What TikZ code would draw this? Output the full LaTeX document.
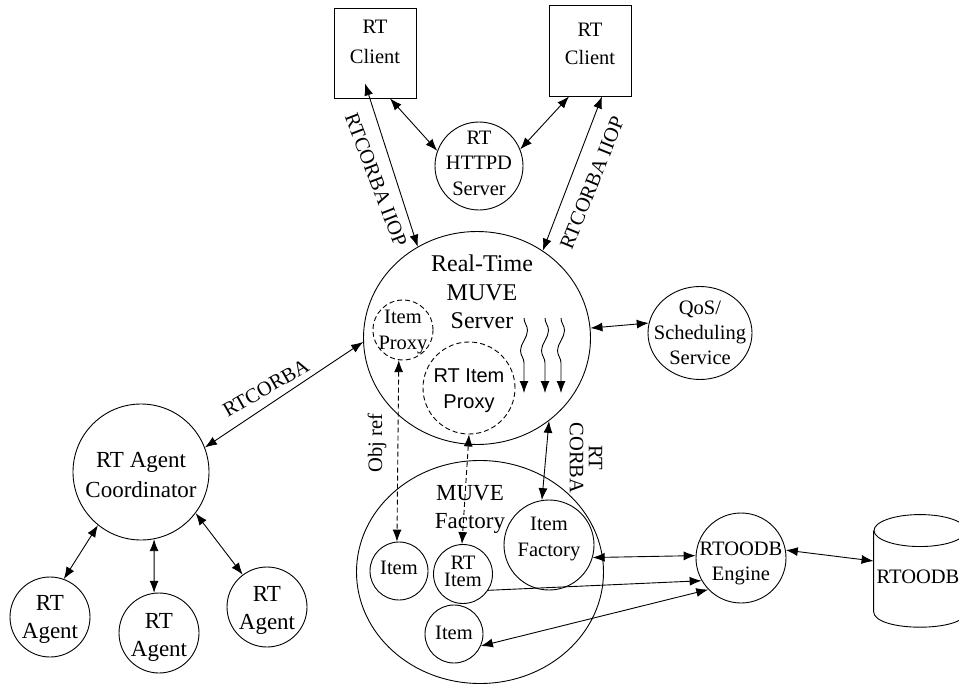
\documentclass[tikz,border=0pt]{standalone}
\usepackage{fontspec}
\setmainfont{Liberation Serif}
\newfontfamily\arialfont{Liberation Sans}
\usetikzlibrary{arrows.meta,shapes.geometric,decorations.pathmorphing}
\tikzset{
  >={Latex[length=12pt,width=9pt]},
  unit/.style = {align=center, inner sep=0pt, line width=0.9pt},
  box/.style = {unit, rectangle, draw=black, minimum width=82pt, minimum height=90pt},
  circ/.style = {unit, circle, draw=black, minimum size=#1},
  dcirc/.style = {circ=#1, dash pattern=on 5pt off 3pt},
  oval/.style 2 args = {unit, ellipse, draw=black, minimum width=#1, minimum height=#2},
  txt/.style = {align=center, inner sep=0pt, font=\fontsize{20.5}{#1}\selectfont},
  big/.style = {align=center, inner sep=0pt, font=\fontsize{23}{#1}\selectfont},
  sans/.style = {align=center, inner sep=0pt, font=\arialfont\fontsize{20}{#1}\selectfont},
  link/.style = {<->, line width=0.9pt},
  dlink/.style = {<->, line width=0.9pt, dash pattern=on 5pt off 3pt},
  wave/.style = {->, line width=0.9pt, decorate,
    decoration={snake, amplitude=3.5pt, segment length=40pt, post length=12pt}},
}
\begin{document}
\begin{tikzpicture}[x=1pt, y=-1pt, line width=0.9pt]
  \useasboundingbox (0,0) rectangle (959,685);

  % clients and web server
  \node[box, label={[txt=30pt, yshift=11pt]center:RT\\Client}] (clientL) at (375,53) {};
  \node[box, minimum height=91pt, label={[txt=28pt, yshift=6.5pt]center:RT\\Client}] (clientR) at (590,50.5) {};
  \node[circ=88pt, label={[txt=25.5pt, yshift=3pt]center:RT\\HTTPD\\Server}] (httpd) at (479,166) {};

  % muve server
  \node[oval={227pt}{213pt}] (server) at (477,338) {};
  \node[font=\fontsize{24}{28.5}\selectfont, align=center, inner sep=0pt] (servertxt) at (482,292) {Real-Time\\MUVE\\Server};
  \node[dcirc=60pt, label={[txt=26pt, yshift=-2pt]center:Item\\Proxy}] (proxy) at (403,330) {};
  \node[dcirc=92pt, label={[sans=26pt, yshift=-3pt]center:RT Item\\Proxy}] (rtproxy) at (469,388) {};
  \foreach \x in {524,545,561}
    \draw[wave] (\x,318) -- (\x,393);
  \node[oval={104pt}{93pt}, label={[txt=25pt]center:QoS/\\Scheduling\\Service}] (qos) at (700,333) {};

  % agents
  \node[circ=136pt, label={[big=30pt, yshift=-3pt]center:RT Agent\\Coordinator}] (coord) at (141,472) {};
  \node[circ=80pt, label={[big=28pt, yshift=-2pt]center:RT\\Agent}] (agentL) at (50,617) {};
  \node[circ=80pt, label={[big=28pt, yshift=-4pt]center:RT\\Agent}] (agentM) at (159,633) {};
  \node[circ=80pt, label={[big=28pt, yshift=-3pt]center:RT\\Agent}] (agentR) at (267,607) {};

  % factory
  \node[oval={247pt}{223pt}] (factory) at (480,572) {};
  \node[big=28pt] (factorytxt) at (470,509) {MUVE\\Factory};
  \node[circ=58pt, label={[txt=20pt, yshift=3pt]center:Item}] (itemA) at (399,571) {};
  \node[circ=59pt, label={[txt=17pt, yshift=2.5pt]center:RT\\Item}] (rtitem) at (463,574) {};
  \node[circ=58pt, label={[txt=20pt, yshift=1pt]center:Item}] (itemB) at (454,634) {};
  \node[circ=90pt, label={[txt=26pt, yshift=6pt]center:Item\\Factory}] (itemfac) at (549,545) {};

  % database
  \node[circ=90pt, label={[txt=25pt, yshift=-5.5pt]center:RTOODB\\Engine}] (engine) at (741,558) {};
  \node[unit, minimum width=92pt, minimum height=112pt, label={[txt=20pt, xshift=-2pt, yshift=-6pt]center:RTOODB}] (db) at (920,571) {};
  \draw (db.north) ++(0,16) ellipse [x radius=46pt, y radius=16pt];
  \draw ([yshift=-16pt]db.north west) -- ([yshift=16pt]db.south west)
    .. controls +(0,21) and +(0,21) .. ([yshift=16pt]db.south east) -- ([yshift=-16pt]db.north east);

  % connectors
  \draw[link] ([xshift=-10pt,yshift=15pt]clientL.south) -- (server.123);
  \draw[link] ([xshift=15pt]clientL.south) -- (httpd.160);
  \draw[link] ([xshift=-21pt]clientR.south) -- (httpd.22);
  \draw[link] ([xshift=12pt]clientR.south) -- (server.53);
  \draw[link] (server.5) -- (qos.169);
  \draw[link] (coord.21) -- (server.182);
  \draw[link] (coord.231) -- (agentL.70);
  \draw[link] (coord.281) -- (agentM.97);
  \draw[link] (coord.323) -- (agentR.127);
  \draw[link] (server.311) -- (itemfac.99);
  \draw[dlink] (proxy.262) -- (itemA.94);
  \draw[dlink] (rtproxy.270) -- (rtitem.92);
  \draw[link] (itemfac.344) -- (engine.177);
  \draw[->] (rtitem.327) -- (engine.210);
  \draw[link] (itemB.336) -- (engine.224);
  \draw[link] (engine.10) -- ([yshift=10pt]db.west);

  % connector labels
  \node[txt=20pt, rotate=-69] (iiopL) at (376,180) {RTCORBA IIOP};
  \node[txt=20pt, rotate=68] (iiopR) at (592,183) {RTCORBA IIOP};
  \node[txt=20pt, rotate=30] (corbaA) at (266,388) {RTCORBA};
  \node[txt=20pt, rotate=90] (objref) at (377,443) {Obj ref};
  \node[txt=19pt, rotate=-90] (corbaF) at (586,458) {RT\\CORBA};
\end{tikzpicture}
\end{document}
